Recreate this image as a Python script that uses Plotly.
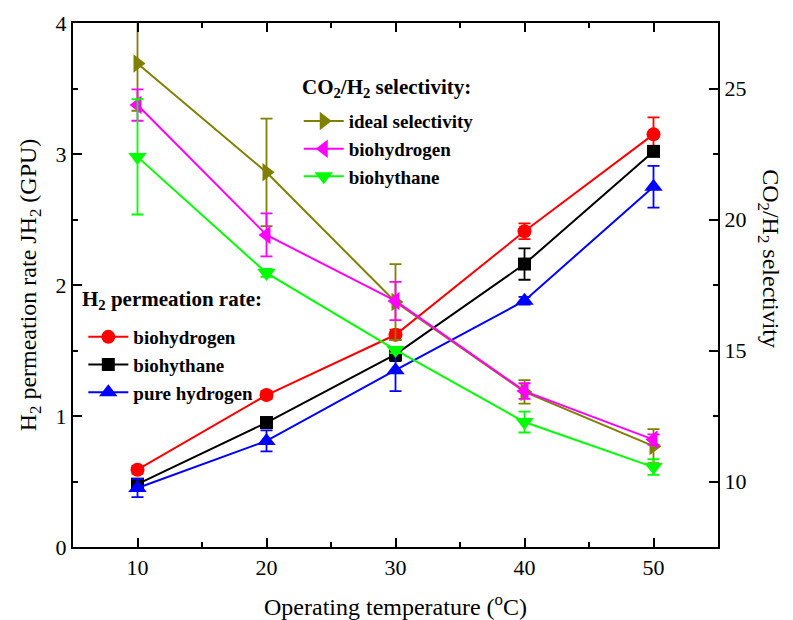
import plotly.graph_objects as go

temps = [10, 20, 30, 40, 50]

# H2 permeation rate (GPU), left axis
perm_biohydrogen = [0.59, 1.16, 1.62, 2.41, 3.15]
perm_biohydrogen_err = [0.03, 0.03, 0.04, 0.06, 0.13]
perm_biohythane = [0.48, 0.95, 1.47, 2.16, 3.02]
perm_biohythane_err = [0.03, 0.04, 0.05, 0.12, 0.03]
perm_pure = [0.45, 0.81, 1.35, 1.88, 2.75]
perm_pure_err = [0.07, 0.08, 0.16, 0.03, 0.16]

# CO2/H2 selectivity, right axis
sel_ideal = [25.95, 21.8, 16.85, 13.42, 11.35]
sel_ideal_err = [1.8, 2.05, 1.45, 0.45, 0.65]
sel_biohydrogen = [24.37, 19.41, 16.89, 13.45, 11.6]
sel_biohydrogen_err = [0.6, 0.82, 0.73, 0.3, 0.2]
sel_biohythane = [22.39, 17.96, 15.02, 12.27, 10.55]
sel_biohythane_err = [2.2, 0.15, 0.12, 0.4, 0.3]

FONT = "Liberation Serif"

fig = go.Figure()

def add(y, err, color, symbol, name, axis, legend, size=15):
    fig.add_trace(go.Scatter(
        x=temps, y=y, name=name, mode="lines+markers",
        line=dict(color=color, width=2),
        marker=dict(color=color, symbol=symbol, size=size),
        error_y=dict(type="data", array=err, visible=True, color=color,
                     thickness=1.8, width=6),
        yaxis=axis, legend=legend,
    ))

add(perm_biohydrogen, perm_biohydrogen_err, "#FF0000", "circle", "biohydrogen", "y", "legend2", 14)
add(perm_biohythane, perm_biohythane_err, "#000000", "square", "biohythane", "y", "legend2", 13)
add(perm_pure, perm_pure_err, "#0000FF", "triangle-up", "pure hydrogen", "y", "legend2", 16)
add(sel_ideal, sel_ideal_err, "#808000", "triangle-right", "ideal selectivity", "y2", "legend", 16)
add(sel_biohydrogen, sel_biohydrogen_err, "#FF00FF", "triangle-left", "biohydrogen", "y2", "legend", 16)
add(sel_biohythane, sel_biohythane_err, "#00FF00", "triangle-down", "biohythane", "y2", "legend", 16)

axis_common = dict(
    showline=True, linecolor="black", linewidth=2, showgrid=False, zeroline=False,
    ticks="inside", ticklen=9, tickwidth=1.5, tickcolor="black",
    tickfont=dict(family=FONT, size=22, color="black"),
    automargin=False,
)

legend_font = dict(family=FONT, size=19, color="black", weight="bold")

fig.update_layout(
    width=793, height=620,
    margin=dict(l=73, r=75, t=23, b=73, autoexpand=False),
    paper_bgcolor="white", plot_bgcolor="white",
    font=dict(family=FONT, color="black"),
    xaxis=dict(range=[5, 55], tickvals=[10, 20, 30, 40, 50],
               minor=dict(tickvals=[15, 25, 35, 45], ticks="inside", ticklen=5,
                          tickwidth=1.5, tickcolor="black"),
               mirror="ticks",
               title=dict(text="Operating temperature (<sup>o</sup>C)",
                          font=dict(family=FONT, size=24), standoff=19),
               **axis_common),
    yaxis=dict(range=[0, 4], tickvals=[0, 1, 2, 3, 4],
               minor=dict(tickvals=[0.5, 1.5, 2.5, 3.5], ticks="inside", ticklen=5,
                          tickwidth=1.5, tickcolor="black"),
               title=dict(text="H<sub>2</sub> permeation rate JH<sub>2</sub> (GPU)",
                          font=dict(family=FONT, size=24), standoff=12),
               **axis_common),
    yaxis2=dict(range=[7.5, 27.5], tickvals=[10, 15, 20, 25], overlaying="y", side="right",
                minor=dict(tickvals=[12.5, 17.5, 22.5], ticks="inside", ticklen=5,
                           tickwidth=1.5, tickcolor="black"),
                **axis_common),
    legend=dict(
        x=0.35, y=0.849, xanchor="left", yanchor="top",
        bgcolor="rgba(0,0,0,0)", itemwidth=40,
        font=legend_font, tracegroupgap=0,
    ),
    legend2=dict(
        x=0.016, y=0.437, xanchor="left", yanchor="top",
        bgcolor="rgba(0,0,0,0)", itemwidth=40,
        font=legend_font, tracegroupgap=0,
    ),
    annotations=[
        dict(text="CO<sub>2</sub>/H<sub>2</sub> selectivity", textangle=90,
             xref="paper", yref="paper", x=1.08, y=0.55, xanchor="center", yanchor="middle",
             showarrow=False, font=dict(family=FONT, size=24, color="black")),
        dict(text="<b>CO<sub>2</sub>/H<sub>2</sub> selectivity:</b>",
             xref="paper", yref="paper", x=0.352, y=0.876, xanchor="left", yanchor="middle",
             showarrow=False, font=dict(family=FONT, size=21, color="black")),
        dict(text="<b>H<sub>2</sub> permeation rate:</b>",
             xref="paper", yref="paper", x=0.011, y=0.471, xanchor="left", yanchor="middle",
             showarrow=False, font=dict(family=FONT, size=21, color="black")),
    ],
)

fig.write_html("out.html")
